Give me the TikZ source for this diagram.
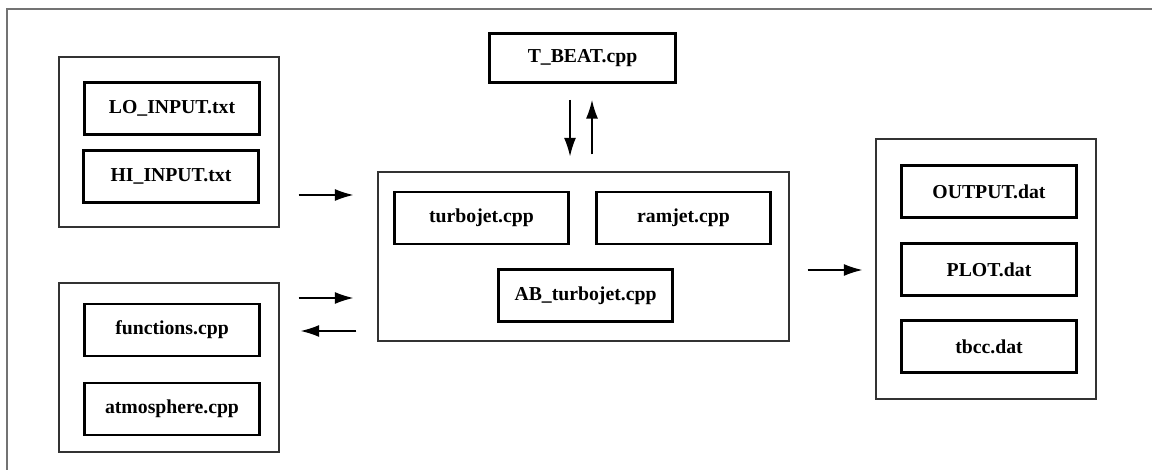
\documentclass[tikz,border=0pt]{standalone}
\usepackage{fontspec}
\setmainfont{Liberation Serif}
\usetikzlibrary{arrows.meta}

\tikzset{every picture/.style={line width=0.75pt}}
\tikzset{
  filebox/.style={draw, line width=2.2pt, minimum width=131pt, minimum height=39pt,
    inner sep=0pt, font=\fontsize{14.8}{17}\selectfont\bfseries},
  groupbox/.style={draw=black!80, line width=0.8pt, inner sep=0pt},
  flow/.style={-{Latex[length=14pt,width=9pt]}, line width=1.1pt}
}

\begin{document}
\begin{tikzpicture}[x=0.75pt,y=0.75pt,yscale=-1,xscale=1]
\useasboundingbox (0,0) rectangle (1152,470);

%Outer frame
\draw[black!55, line width=1.2pt] (7,480) -- (7,9) -- (1160,9) ;

%Input files
\node[groupbox, minimum width=165pt, minimum height=127.5pt] (grpin) at (169,142) {};
\node[filebox] (lo) at (172,108.5) {LO\_INPUT.txt};
\node[filebox] (hi) at (171,176.5) {HI\_INPUT.txt};

%Support functions
\node[groupbox, minimum width=165pt, minimum height=126.75pt] (grpfn) at (169,367.5) {};
\node[filebox] (fn) at (172,330) {functions.cpp};
\node[filebox] (atm) at (172,409) {atmosphere.cpp};

%Engine models
\node[groupbox, minimum width=308.25pt, minimum height=126.75pt] (core) at (583.5,256.5) {};
\node[filebox] (turbo) at (481.5,218) {turbojet.cpp};
\node[filebox] (ram) at (683.5,218) {ramjet.cpp};
\node[filebox] (ab) at (585.5,295.5) {AB\_turbojet.cpp};

%Driver
\node[filebox, minimum width=139.5pt, minimum height=36.75pt] (tbeat) at (582.5,58) {T\_BEAT.cpp};

%Output files
\node[groupbox, minimum width=165pt, minimum height=195pt] (grpout) at (986,269) {};
\node[filebox] (out) at (989,191.5) {OUTPUT.dat};
\node[filebox] (plot) at (989,269.5) {PLOT.dat};
\node[filebox] (tbcc) at (989,346.5) {tbcc.dat};

%Arrows
\draw[flow, shorten <=14.25pt, shorten >=18pt] (grpin.east |- 0,195) -- (core.west |- 0,195) ;
\draw[flow, shorten <=14.25pt, shorten >=18pt] (grpfn.east |- 0,298) -- (core.west |- 0,298) ;
\draw[flow, shorten <=15.75pt, shorten >=15.75pt] (core.west |- 0,331) -- (grpfn.east |- 0,331) ;
\draw[flow, shorten <=13.5pt, shorten >=9.75pt] (core.east |- 0,270) -- (grpout.west |- 0,270) ;
\draw[flow, shorten <=12pt, shorten >=11.25pt] (tbeat.south -| 570,0) -- (core.north -| 570,0) ;
\draw[flow, shorten <=12.75pt, shorten >=12pt] (core.north -| 592,0) -- (tbeat.south -| 592,0) ;

\end{tikzpicture}
\end{document}
